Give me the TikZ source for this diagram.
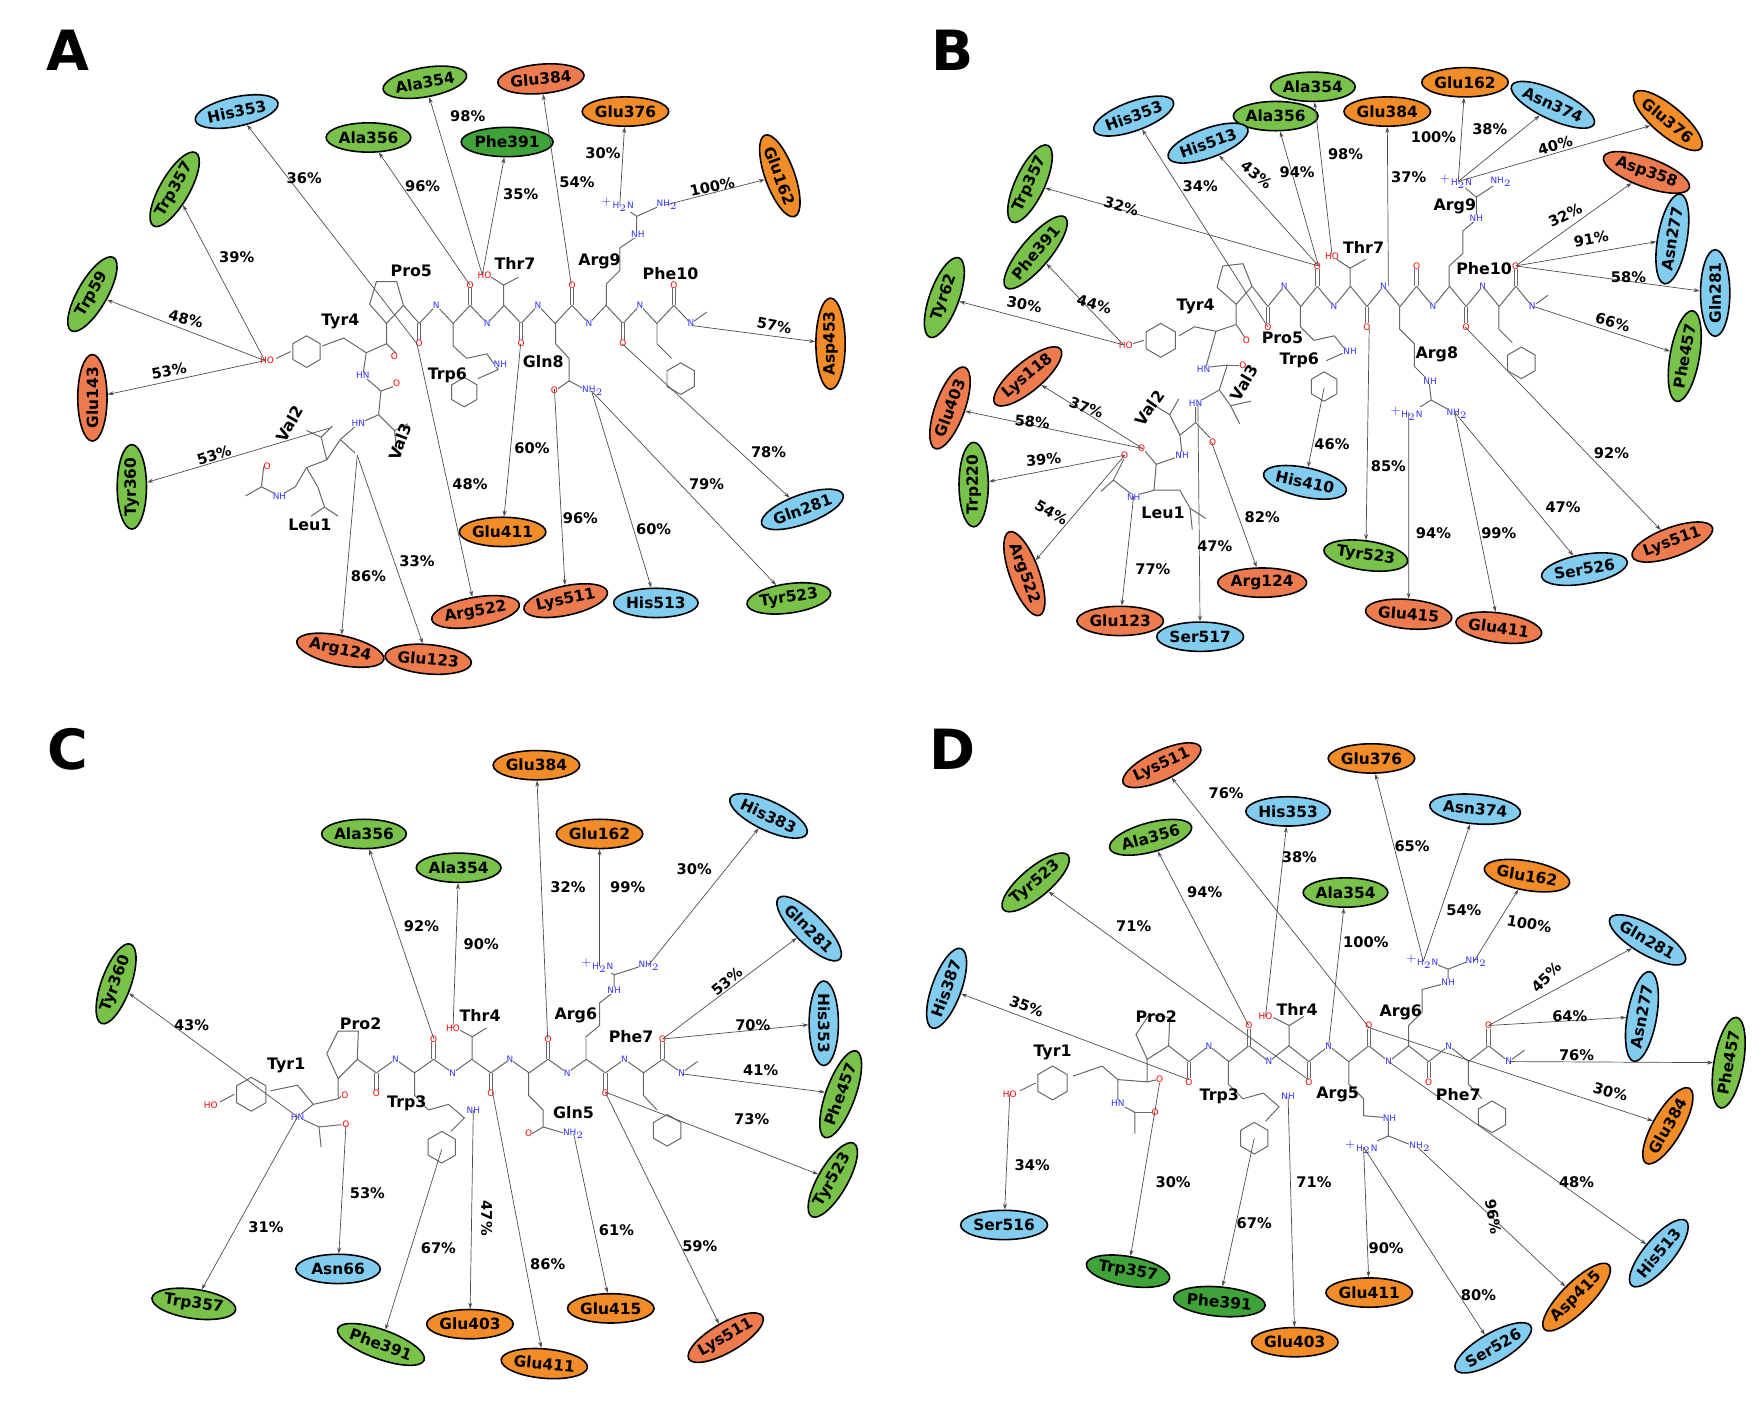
\documentclass[tikz,border=0pt]{standalone}
\usepackage{fontspec}
\setmainfont{DejaVu Sans}
\usetikzlibrary{shapes.geometric,arrows.meta}
\definecolor{lg}{HTML}{78C24A}
\definecolor{dg}{HTML}{3FA33A}
\definecolor{org}{HTML}{F28C28}
\definecolor{sal}{HTML}{EE7B4E}
\definecolor{blu}{HTML}{82CDEF}
\tikzset{
 res/.style={ellipse,draw=black,line width=0.8pt,minimum width=1.5cm,minimum height=0.52cm,inner sep=0pt,font=\bfseries\fontsize{7.8}{8}\selectfont},
 pct/.style={font=\bfseries\fontsize{7.4}{8}\selectfont,inner sep=0pt},
 rlab/.style={font=\bfseries\fontsize{8}{9}\selectfont,inner sep=0pt},
 lnk/.style={draw=black!70,line width=0.35pt,-{Stealth[length=3pt,width=2pt]}},
 bond/.style={draw=black!60,line width=0.5pt},
 ao/.style={text=red,font=\fontsize{4.5}{5}\selectfont,inner sep=0pt,fill=white},
 an/.style={text=blue!80,font=\fontsize{4.5}{5}\selectfont,inner sep=0pt,fill=white},
 plab/.style={font=\bfseries\fontsize{28}{30}\selectfont,inner sep=0pt}
}
\newcommand\R[6]{\node[res,fill=#5,rotate=#4] (#1) at (#2,#3) {#6};}
\newcommand\Lk[6]{\draw[lnk] (#1) -- (#2); \node[pct,rotate=#5] at (#3,#4) {#6};}
\newcommand\bbone[4]{%
 \draw[bond] (#1,#3) \foreach \i in {1,...,16}{ -- ({#1+\i*#2/3},{ifthenelse(isodd(\i),#4,#3)}) };
 \foreach \k in {0,...,5}{
   \pgfmathsetmacro\xx{#1+\k*#2}
   \pgfmathsetmacro\yy{ifthenelse(isodd(\k),#4,#3)}
   \pgfmathsetmacro\oy{ifthenelse(isodd(\k),#4-18,#3+18)}
   \draw[bond,double,double distance=1.2pt] (\xx,\yy) -- (\xx,\oy);
   \node[ao] at (\xx,\oy) {O};
   \pgfmathsetmacro\nx{#1+\k*#2+#2/3}
   \pgfmathsetmacro\ny{ifthenelse(isodd(\k),#3,#4)}
   \node[an] at (\nx,\ny) {N};
 }
 \pgfmathsetmacro\ex{#1+16*#2/3}
 \draw[bond] (\ex,#3) -- ++(14,-10);
 \node[an] at (\ex,#3) {N};
}
\newcommand\hexa[3]{\draw[bond] (#1,#2) +(90:#3)--+(150:#3)--+(210:#3)--+(270:#3)--+(330:#3)--+(30:#3)--cycle;}
\begin{document}
\begin{tikzpicture}[x=0.02cm,y=-0.02cm]
\useasboundingbox (0,0) rectangle (1560,1251);
\node[plab] at (60,45) {A};
\node[plab] at (845,45) {B};
\node[plab] at (60,665) {C};
\node[plab] at (845,665) {D};

%%%%%%%%%%%%%%%% PANEL A
\bbone{372}{45.2}{287}{271}
\draw[bond] (372,287)--(358,271)--(343,287)--(328,270)--(334,250)--(352,250)--(358,271);
\draw[bond] (343,287)--(343,305)--(325,313)--(322,333)--(338,347)--(336,368)--(318,376)--(302,390)--(290,408)--(272,415)--(262,432)--(248,440)--(232,432)--(218,440);
\draw[bond] (343,305)--(352,314); \draw[bond] (338,347)--(352,342); \draw[bond] (302,390)--(315,402); \draw[bond] (232,432)--(234,414);
\draw[bond] (325,313)--(305,300)--(286,307); \hexa{272}{312}{14}
\draw[bond] (258,312)--(245,318);
\draw[bond] (336,368)--(350,382)--(352,398); \draw[bond] (350,382)--(362,376);
\draw[bond] (290,408)--(285,388)--(272,382); \draw[bond] (285,388)--(295,378);
\draw[bond] (272,415)--(282,432)--(288,450)--(276,458); \draw[bond] (288,450)--(300,458);
\node[ao] at (350,316) {O}; \node[ao] at (352,340) {O}; \node[ao] at (237,414) {O}; \node[ao] at (237,320) {HO};
\node[an] at (322,333) {HN}; \node[an] at (318,376) {HN}; \node[an] at (248,440) {NH};
\draw[bond] (402,287)--(402,307)--(414,318); \hexa{412}{348}{13}
\draw[bond] (414,318)--(432,314)--(442,328)--(424,336);
\node[an] at (444,323) {NH};
\draw[bond] (447,271)--(447,253)--(460,246); \node[ao] at (430,244) {HO};
\draw[bond] (447,253)--(436,246);
\draw[bond] (493,287)--(493,305)--(505,318)--(505,338)--(495,345); \draw[bond] (505,338)--(520,346);
\node[ao] at (492,346) {O}; \node[an] at (526,347) {NH$_2$};
\draw[bond] (538,271)--(538,252)--(550,240)--(550,220)--(565,210)--(565,192)--(552,183); \draw[bond] (565,192)--(585,183);
\node[an] at (566,208) {NH}; \node[an] at (548,182) {$^+$H$_2$N}; \node[an] at (592,182) {NH$_2$};
\draw[bond] (583,287)--(583,305)--(596,318); \hexa{604}{336}{14}
\coordinate (aHO) at (235,320); \coordinate (aOp) at (370,305); \coordinate (aOt) at (417,253);
\coordinate (aHOt) at (428,244); \coordinate (aOg) at (507,253); \coordinate (aOb) at (462,305);
\coordinate (aHN) at (550,182); \coordinate (aNH2) at (590,182); \coordinate (aNe) at (615,289);
\coordinate (aOr) at (552,305); \coordinate (aOq) at (492,345); \coordinate (aNq) at (525,347);
\coordinate (aOv) at (317,404); \coordinate (aV2) at (292,380);
\R{aA354}{377}{73}{10}{lg}{Ala354}
\R{aG384}{480}{70}{5}{sal}{Glu384}
\R{aG376}{555}{99}{0}{org}{Glu376}
\R{aH353}{210}{99}{12}{blu}{His353}
\R{aA356}{327}{122}{0}{lg}{Ala356}
\R{aF391}{450}{126}{0}{dg}{Phe391}
\R{aW357}{155}{168}{60}{lg}{Trp357}
\R{aG162}{692}{156}{-70}{org}{Glu162}
\R{aW59}{82}{261}{60}{lg}{Trp59}
\R{aD453}{737}{305}{90}{org}{Asp453}
\R{aG143}{82}{353}{90}{sal}{Glu143}
\R{aY360}{117}{432}{90}{lg}{Tyr360}
\R{aG411}{446}{472}{0}{org}{Glu411}
\R{aQ281}{712}{452}{20}{blu}{Gln281}
\R{aR522}{422}{543}{10}{sal}{Arg522}
\R{aK511}{502}{533}{12}{sal}{Lys511}
\R{aH513}{582}{535}{0}{blu}{His513}
\R{aY523}{700}{531}{8}{lg}{Tyr523}
\R{aR124}{302}{577}{-12}{sal}{Arg124}
\R{aG123}{380}{585}{-5}{sal}{Glu123}
\Lk{aHO}{aW357}{210}{228}{0}{39\%}
\Lk{aHO}{aW59}{165}{283}{-15}{48\%}
\Lk{aHO}{aG143}{150}{329}{10}{53\%}
\Lk{aOp}{aH353}{270}{158}{0}{36\%}
\Lk{aOt}{aA356}{375}{165}{0}{96\%}
\Lk{aHOt}{aA354}{415}{103}{0}{98\%}
\Lk{aHOt}{aF391}{462}{172}{0}{35\%}
\Lk{aOg}{aG384}{512}{162}{0}{54\%}
\Lk{aHN}{aG376}{535}{136}{0}{30\%}
\Lk{aNH2}{aG162}{632}{166}{12}{100\%}
\Lk{aNe}{aD453}{687}{289}{-10}{57\%}
\Lk{aV2}{aY360}{190}{404}{18}{53\%}
\Lk{aOv}{aR124}{327}{511}{0}{86\%}
\Lk{aOv}{aG123}{370}{498}{0}{33\%}
\Lk{aOp}{aR522}{417}{430}{0}{48\%}
\Lk{aOb}{aG411}{472}{398}{0}{60\%}
\Lk{aOq}{aK511}{515}{460}{0}{96\%}
\Lk{aNq}{aH513}{580}{470}{0}{60\%}
\Lk{aNq}{aY523}{627}{430}{0}{79\%}
\Lk{aOr}{aQ281}{682}{401}{0}{78\%}
\node[rlab] at (365,240) {Pro5}; \node[rlab] at (457,234) {Thr7};
\node[rlab] at (532,232) {Arg9}; \node[rlab] at (595,243) {Phe10};
\node[rlab] at (302,285) {Tyr4}; \node[rlab] at (397,333) {Trp6};
\node[rlab] at (482,321) {Gln8}; \node[rlab,rotate=60] at (257,376) {Val2};
\node[rlab,rotate=70] at (355,392) {Val3}; \node[rlab] at (275,466) {Leu1};

%%%%%%%%%%%%%%%% PANEL B
\bbone{1125}{44}{272}{254}
\draw[bond] (1125,272)--(1111,254)--(1097,270)--(1080,255)--(1085,236)--(1103,234)--(1111,254);
\draw[bond] (1097,270)--(1097,288)--(1079,294)--(1070,326)--(1089,324)--(1082,346)--(1061,358)--(1061,375)--(1047,386)--(1049,404)--(1026,412)--(1024,435)--(1006,440)--(988,426)--(977,436);
\draw[bond] (1097,288)--(1105,300); \draw[bond] (1089,324)--(1102,324); \draw[bond] (1061,375)--(1075,390); \draw[bond] (1026,412)--(1014,398); \draw[bond] (988,426)--(998,406);
\draw[bond] (1079,294)--(1060,290)--(1046,298); \hexa{1030}{302}{15}
\draw[bond] (1015,302)--(1005,305);
\draw[bond] (1082,346)--(1092,360)--(1100,376); \draw[bond] (1092,360)--(1110,356);
\draw[bond] (1047,386)--(1038,368)--(1025,360); \draw[bond] (1038,368)--(1046,354);
\draw[bond] (1024,435)--(1047,435)--(1056,451)--(1070,460); \draw[bond] (1056,451)--(1058,470);
\node[ao] at (1106,302) {O}; \node[ao] at (1103,324) {O}; \node[ao] at (1076,392) {O}; \node[ao] at (1013,398) {O}; \node[ao] at (998,404) {O};
\node[ao] at (999,306) {HO};
\node[an] at (1068,328) {HN}; \node[an] at (1061,358) {HN}; \node[an] at (1049,404) {NH}; \node[an] at (1006,441) {NH};
\draw[bond] (1154,272)--(1154,290)--(1166,302); \hexa{1175}{343}{13}
\draw[bond] (1166,302)--(1184,298)--(1195,312)--(1177,320);
\node[an] at (1198,312) {NH};
\draw[bond] (1198,254)--(1198,238)--(1212,230); \draw[bond] (1198,238)--(1186,230); \node[ao] at (1182,227) {HO};
\draw[bond] (1242,272)--(1242,292)--(1255,305)--(1255,325)--(1268,338)--(1270,355)--(1254,365); \draw[bond] (1270,355)--(1288,365);
\node[an] at (1269,338) {NH}; \node[an] at (1248,367) {$^+$H$_2$N}; \node[an] at (1293,367) {NH$_2$};
\draw[bond] (1286,254)--(1286,236)--(1298,225)--(1298,205)--(1310,195)--(1310,175)--(1296,163); \draw[bond] (1310,175)--(1328,163);
\node[an] at (1310,194) {NH}; \node[an] at (1292,161) {$^+$H$_2$N}; \node[an] at (1332,161) {NH$_2$};
\draw[bond] (1330,272)--(1330,292)--(1342,304); \hexa{1350}{322}{14}
\coordinate (bHO) at (997,306); \coordinate (bOt) at (1170,236); \coordinate (bHOt) at (1182,226);
\coordinate (bNH) at (1232,254); \coordinate (bOb) at (1215,292); \coordinate (bOp) at (1125,290);
\coordinate (bW) at (1175,344); \coordinate (bO1) at (1014,398); \coordinate (bO2) at (998,404);
\coordinate (bHN) at (1063,358); \coordinate (bO3) at (1075,392); \coordinate (bNL) at (1006,440);
\coordinate (bHN8) at (1250,366); \coordinate (bNH8) at (1291,366); \coordinate (bHN9) at (1294,161);
\coordinate (bOf) at (1345,236); \coordinate (bNe) at (1361,272); \coordinate (bOr) at (1300,290);
\R{bH353}{1006}{103}{20}{blu}{His353}
\R{bA354}{1165}{77}{0}{lg}{Ala354}
\R{bA356}{1132}{103}{0}{lg}{Ala356}
\R{bH513}{1072}{127}{20}{blu}{His513}
\R{bG384}{1231}{99}{0}{org}{Glu384}
\R{bW357}{914}{163}{65}{lg}{Trp357}
\R{bF391}{919}{224}{50}{lg}{Phe391}
\R{bY62}{838}{264}{70}{lg}{Tyr62}
\R{bK118}{912}{334}{40}{sal}{Lys118}
\R{bG403}{843}{362}{70}{sal}{Glu403}
\R{bW220}{864}{430}{90}{lg}{Trp220}
\R{bR522}{909}{509}{-70}{sal}{Arg522}
\R{bG123}{994}{551}{0}{sal}{Glu123}
\R{bS517}{1065}{565}{0}{blu}{Ser517}
\R{bR124}{1120}{517}{0}{sal}{Arg124}
\R{bH410}{1158}{428}{-12}{blu}{His410}
\R{bY523}{1212}{493}{-8}{lg}{Tyr523}
\R{bG415}{1250}{545}{-5}{sal}{Glu415}
\R{bG162}{1300}{73}{0}{org}{Glu162}
\R{bN374}{1378}{93}{-25}{blu}{Asn374}
\R{bG376}{1480}{107}{-40}{org}{Glu376}
\R{bD358}{1461}{153}{-20}{sal}{Asp358}
\R{bN277}{1484}{212}{80}{blu}{Asn277}
\R{bQ281}{1522}{260}{90}{blu}{Gln281}
\R{bF457}{1495}{316}{80}{lg}{Phe457}
\R{bK511}{1484}{481}{20}{sal}{Lys511}
\R{bS526}{1406}{505}{10}{blu}{Ser526}
\R{bG411}{1330}{557}{-8}{sal}{Glu411}
\Lk{bOt}{bW357}{995}{183}{-15}{32\%}
\Lk{bOp}{bH353}{1065}{165}{0}{34\%}
\Lk{bOt}{bH513}{1115}{155}{-40}{43\%}
\Lk{bOt}{bA356}{1151}{153}{0}{94\%}
\Lk{bHOt}{bA354}{1194}{137}{0}{98\%}
\Lk{bNH}{bG384}{1250}{157}{0}{37\%}
\Lk{bHO}{bF391}{971}{270}{-15}{44\%}
\Lk{bHO}{bY62}{909}{270}{-10}{30\%}
\Lk{bO1}{bK118}{964}{362}{-20}{37\%}
\Lk{bO1}{bG403}{916}{374}{-5}{58\%}
\Lk{bO2}{bW220}{926}{408}{5}{39\%}
\Lk{bO2}{bR522}{933}{455}{-30}{54\%}
\Lk{bNL}{bG123}{1023}{505}{0}{77\%}
\Lk{bHN}{bS517}{1078}{485}{0}{47\%}
\Lk{bO3}{bR124}{1120}{459}{0}{82\%}
\Lk{bW}{bH410}{1182}{394}{0}{46\%}
\Lk{bOb}{bY523}{1232}{414}{0}{85\%}
\Lk{bHN8}{bG415}{1272}{473}{0}{94\%}
\Lk{bNH8}{bG411}{1330}{473}{0}{99\%}
\Lk{bNH8}{bS526}{1387}{450}{0}{47\%}
\Lk{bOr}{bK511}{1430}{402}{0}{92\%}
\Lk{bHN9}{bG162}{1272}{122}{0}{100\%}
\Lk{bHN9}{bN374}{1322}{115}{0}{38\%}
\Lk{bHN9}{bG376}{1380}{129}{15}{40\%}
\Lk{bOf}{bD358}{1389}{191}{25}{32\%}
\Lk{bOf}{bN277}{1412}{212}{10}{91\%}
\Lk{bOf}{bQ281}{1445}{246}{0}{58\%}
\Lk{bNe}{bF457}{1431}{286}{-15}{66\%}
\node[rlab] at (1061,272) {Tyr4}; \node[rlab] at (1138,300) {Pro5};
\node[rlab] at (1153,320) {Trp6}; \node[rlab] at (1210,220) {Thr7};
\node[rlab] at (1275,314) {Arg8}; \node[rlab] at (1291,183) {Arg9};
\node[rlab] at (1317,238) {Phe10}; \node[rlab,rotate=55] at (1020,362) {Val2};
\node[rlab,rotate=60] at (1104,340) {Val3}; \node[rlab] at (1032,455) {Leu1};

%%%%%%%%%%%%%%%% PANEL C
\bbone{334}{50.8}{952}{940}
\draw[bond] (334,952)--(317,940)--(300,957)--(290,935)--(300,915)--(318,915)--(317,940);
\draw[bond] (300,957)--(300,975)--(278,980)--(264,991)--(283,1000)--(285,1018); \draw[bond] (300,975)--(306,970);
\draw[bond] (283,1000)--(303,998);
\draw[bond] (278,980)--(264,963)--(240,968); \hexa{223}{971}{15}
\draw[bond] (208,971)--(195,978);
\node[ao] at (306,972) {O}; \node[ao] at (307,998) {O}; \node[an] at (264,991) {HN}; \node[ao] at (187,981) {HO};
\draw[bond] (368,952)--(368,972)--(380,985); \hexa{392}{1018}{14}
\draw[bond] (380,985)--(398,980)--(412,992)--(400,1004); \node[an] at (420,985) {NH};
\draw[bond] (419,940)--(419,920)--(432,912); \draw[bond] (419,920)--(406,913); \node[ao] at (402,912) {HO};
\draw[bond] (469,952)--(469,972)--(482,985)--(482,1000)--(472,1006); \draw[bond] (482,1000)--(502,1006);
\node[ao] at (469,1006) {O}; \node[an] at (509,1006) {NH$_2$};
\draw[bond] (520,940)--(520,920)--(532,910)--(532,890)--(545,880)--(545,865)--(532,857); \draw[bond] (545,865)--(570,857);
\node[an] at (545,879) {NH}; \node[an] at (530,857) {$^+$H$_2$N}; \node[an] at (576,857) {NH$_2$};
\draw[bond] (571,952)--(571,972)--(583,985); \hexa{592}{1003}{14}
\coordinate (cNH) at (264,991); \coordinate (cOa) at (307,998); \coordinate (cO1) at (385,922);
\coordinate (cHO) at (402,912); \coordinate (cO2) at (486,922); \coordinate (cHN) at (532,857);
\coordinate (cNH2) at (575,857); \coordinate (cO3) at (588,922); \coordinate (cNe) at (606,953);
\coordinate (cO4) at (537,969); \coordinate (cNq) at (509,1006); \coordinate (cO5) at (437,969);
\coordinate (cWN) at (420,985); \coordinate (cW) at (392,1020);
\R{cG384}{476}{679}{0}{org}{Glu384}
\R{cH383}{682}{724}{-25}{blu}{His383}
\R{cA356}{323}{740}{0}{lg}{Ala356}
\R{cG162}{532}{740}{0}{org}{Glu162}
\R{cA354}{407}{770}{0}{lg}{Ala354}
\R{cQ281}{718}{824}{-45}{blu}{Gln281}
\R{cY360}{103}{873}{70}{lg}{Tyr360}
\R{cH353}{731}{908}{-90}{blu}{His353}
\R{cF457}{746}{971}{70}{lg}{Phe457}
\R{cY523}{739}{1047}{60}{lg}{Tyr523}
\R{cN66}{300}{1126}{0}{blu}{Asn66}
\R{cW357}{172}{1157}{-8}{lg}{Trp357}
\R{cF391}{338}{1193}{-20}{lg}{Phe391}
\R{cG403}{417}{1175}{0}{org}{Glu403}
\R{cG411}{483}{1210}{-5}{org}{Glu411}
\R{cG415}{542}{1161}{0}{org}{Glu415}
\R{cK511}{644}{1187}{30}{sal}{Lys511}
\Lk{cNH}{cY360}{170}{910}{0}{43\%}
\Lk{cNH}{cW357}{236}{1089}{0}{31\%}
\Lk{cOa}{cN66}{326}{1059}{0}{53\%}
\Lk{cO1}{cA356}{374}{822}{0}{92\%}
\Lk{cHO}{cA354}{427}{838}{0}{90\%}
\Lk{cO2}{cG384}{504}{787}{0}{32\%}
\Lk{cHN}{cG162}{557}{787}{0}{99\%}
\Lk{cNH2}{cH383}{616}{771}{0}{30\%}
\Lk{cO3}{cQ281}{645}{871}{40}{53\%}
\Lk{cO3}{cH353}{668}{910}{0}{70\%}
\Lk{cNe}{cF457}{675}{950}{0}{41\%}
\Lk{cO4}{cY523}{667}{993}{0}{73\%}
\Lk{cO4}{cK511}{621}{1106}{0}{59\%}
\Lk{cNq}{cG415}{547}{1092}{0}{61\%}
\Lk{cO5}{cG411}{486}{1122}{0}{86\%}
\Lk{cWN}{cG403}{432}{1081}{-90}{47\%}
\Lk{cW}{cF391}{389}{1108}{0}{67\%}
\node[rlab] at (320,908) {Pro2}; \node[rlab] at (426,901) {Thr4};
\node[rlab] at (511,901) {Arg6}; \node[rlab] at (560,920) {Phe7};
\node[rlab] at (254,945) {Tyr1}; \node[rlab] at (361,979) {Trp3};
\node[rlab] at (509,987) {Gln5};

%%%%%%%%%%%%%%%% PANEL D
\bbone{1055}{53.2}{942}{928}
\draw[bond] (1055,942)--(1037,928)--(1018,940)--(1008,918)--(1020,900)--(1038,903)--(1037,928);
\draw[bond] (1018,940)--(1018,960)--(992,958)--(992,979)--(1007,987)--(1007,1006); \draw[bond] (1018,960)--(1028,958);
\draw[bond] (1007,987)--(1022,987);
\draw[bond] (992,958)--(978,946)--(952,955); \hexa{934}{961}{15}
\draw[bond] (919,961)--(905,968);
\node[ao] at (1029,958) {O}; \node[ao] at (1025,987) {O}; \node[an] at (992,979) {HN}; \node[ao] at (896,971) {HO};
\draw[bond] (1090,942)--(1090,962)--(1103,975); \hexa{1113}{1010}{14}
\draw[bond] (1103,975)--(1121,970)--(1135,982)--(1123,995); \node[an] at (1143,973) {NH};
\draw[bond] (1144,928)--(1144,910)--(1157,902); \draw[bond] (1144,910)--(1130,903); \node[ao] at (1123,902) {HO};
\draw[bond] (1197,942)--(1197,962)--(1210,975)--(1210,990)--(1232,992)--(1232,1008)--(1214,1016); \draw[bond] (1232,1008)--(1252,1016);
\node[an] at (1233,992) {NH}; \node[an] at (1208,1018) {$^+$H$_2$N}; \node[an] at (1260,1018) {NH$_2$};
\draw[bond] (1250,928)--(1250,910)--(1262,898)--(1262,878)--(1285,872)--(1285,860)--(1268,853); \draw[bond] (1285,860)--(1303,853);
\node[an] at (1285,872) {NH}; \node[an] at (1262,853) {$^+$H$_2$N}; \node[an] at (1310,853) {NH$_2$};
\draw[bond] (1303,942)--(1303,962)--(1315,975); \hexa{1324}{991}{14}
\coordinate (dHO) at (896,971); \coordinate (dOy) at (1029,961); \coordinate (dOp) at (1055,958);
\coordinate (dO1) at (1108,910); \coordinate (dHOt) at (1123,902); \coordinate (dO2) at (1161,958);
\coordinate (dN7) at (1179,928); \coordinate (dO3) at (1215,912); \coordinate (dHN6) at (1263,853);
\coordinate (dNH6) at (1308,853); \coordinate (dO5) at (1321,910); \coordinate (dNe) at (1340,942);
\coordinate (dN10) at (1232,942); \coordinate (dHN5) at (1210,1018); \coordinate (dNH5) at (1258,1018);
\coordinate (dWN) at (1143,973); \coordinate (dW) at (1113,1010);
\R{dK511}{1031}{679}{25}{sal}{Lys511}
\R{dG376}{1217}{673}{0}{org}{Glu376}
\R{dH353}{1143}{720}{0}{blu}{His353}
\R{dN374}{1309}{718}{-5}{blu}{Asn374}
\R{dA356}{1021}{743}{15}{lg}{Ala356}
\R{dG162}{1355}{777}{-10}{org}{Glu162}
\R{dY523}{919}{783}{40}{lg}{Tyr523}
\R{dA354}{1194}{792}{0}{lg}{Ala354}
\R{dQ281}{1462}{834}{-30}{blu}{Gln281}
\R{dH387}{840}{877}{70}{blu}{His387}
\R{dN277}{1457}{902}{80}{blu}{Asn277}
\R{dF457}{1534}{943}{80}{lg}{Phe457}
\R{dG384}{1480}{999}{60}{org}{Glu384}
\R{dS516}{891}{1087}{0}{blu}{Ser516}
\R{dH513}{1472}{1112}{50}{blu}{His513}
\R{dW357}{1001}{1128}{-10}{dg}{Trp357}
\R{dD415}{1399}{1151}{45}{org}{Asp415}
\R{dG411}{1215}{1147}{0}{org}{Glu411}
\R{dF391}{1082}{1155}{-5}{dg}{Phe391}
\R{dG403}{1149}{1191}{0}{org}{Glu403}
\R{dS526}{1325}{1196}{30}{blu}{Ser526}
\Lk{dOp}{dH387}{911}{893}{-20}{35\%}
\Lk{dO2}{dY523}{1006}{822}{0}{71\%}
\Lk{dO1}{dA356}{1069}{792}{0}{94\%}
\Lk{dHOt}{dH353}{1153}{761}{0}{38\%}
\Lk{dO3}{dK511}{1088}{704}{0}{76\%}
\Lk{dN7}{dA354}{1212}{836}{0}{100\%}
\Lk{dHN6}{dG376}{1253}{751}{0}{65\%}
\Lk{dHN6}{dN374}{1299}{808}{0}{54\%}
\Lk{dNH6}{dG162}{1357}{820}{-10}{100\%}
\Lk{dO5}{dQ281}{1372}{867}{45}{45\%}
\Lk{dO5}{dN277}{1393}{902}{0}{64\%}
\Lk{dNe}{dF457}{1399}{936}{0}{76\%}
\Lk{dO3}{dG384}{1429}{969}{-15}{30\%}
\Lk{dN10}{dH513}{1399}{1049}{0}{48\%}
\Lk{dNH5}{dD415}{1325}{1080}{-80}{96\%}
\Lk{dHN5}{dS526}{1312}{1149}{0}{80\%}
\Lk{dHN5}{dG411}{1230}{1108}{0}{90\%}
\Lk{dWN}{dG403}{1166}{1049}{0}{71\%}
\Lk{dW}{dF391}{1113}{1085}{0}{67\%}
\Lk{dOy}{dW357}{1041}{1049}{0}{30\%}
\Lk{dHO}{dS516}{916}{1034}{0}{34\%}
\node[rlab] at (1026,902) {Pro2}; \node[rlab] at (1151,896) {Thr4};
\node[rlab] at (1243,898) {Arg6}; \node[rlab] at (934,934) {Tyr1};
\node[rlab] at (1082,973) {Trp3}; \node[rlab] at (1187,971) {Arg5};
\node[rlab] at (1294,971) {Phe7};
\end{tikzpicture}
\end{document}
